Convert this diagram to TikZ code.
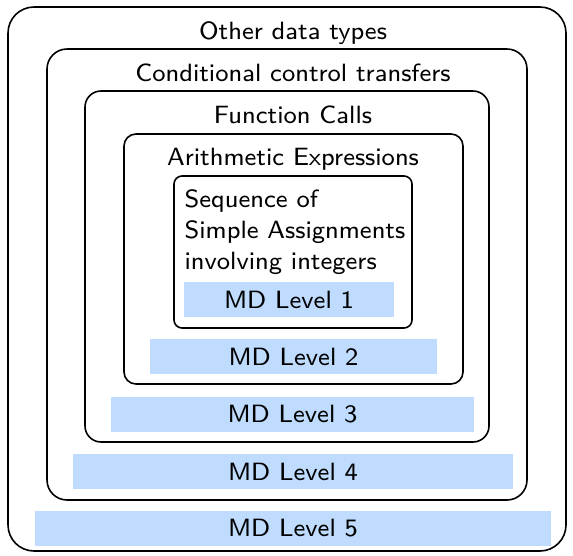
\documentclass[tikz,border=0pt]{standalone}
\definecolor{mdblue}{RGB}{191,219,254}
\begin{document}
\begin{tikzpicture}[x=0.32pt,y=-0.32pt,
  box/.style={draw=black,line width=0.512pt,inner sep=0pt},
  bar/.style={fill=mdblue,inner sep=0pt,minimum height=11.2pt,font=\sffamily\fontsize{8}{9.92}\selectfont},
  ttl/.style={anchor=base,inner sep=0pt,font=\sffamily\fontsize{8}{9.92}\selectfont}]
\useasboundingbox (0,0) rectangle (573,556);
\node[box,rounded corners=8.32pt,minimum width=178.56pt,minimum height=174.08pt] (b1) at (287,279) {};
\node[box,rounded corners=6.4pt,minimum width=153.6pt,minimum height=144.32pt] (b2) at (287,274.5) {};
\node[box,rounded corners=5.12pt,minimum width=129.28pt,minimum height=112.32pt] (b3) at (287,266.5) {};
\node[box,rounded corners=3.84pt,minimum width=108.48pt,minimum height=80pt] (b4) at (293.5,259) {};
\node[box,rounded corners=2.56pt,minimum width=76.16pt,minimum height=48.64pt] (b5) at (293,252) {};
\node[ttl] (t1) at (293,39) {Other data types};
\node[ttl] (t2) at (293,81) {Conditional control transfers};
\node[ttl] (t3) at (293,123) {Function Calls};
\node[ttl] (t4) at (293,165) {Arithmetic Expressions};
\node[anchor=north west,inner sep=0pt,align=left,font=\sffamily\fontsize{8}{9.92}\selectfont] (t5) at (184,189) {Sequence of\\Simple Assignments\\involving integers};
\node[bar,minimum width=67.2pt] (l1) at (289,299.5) {MD Level 1};
\node[bar,minimum width=91.84pt] (l2) at (293.5,356.5) {MD Level 2};
\node[bar,minimum width=116.16pt] (l3) at (292.5,414.5) {MD Level 3};
\node[bar,minimum width=140.8pt] (l4) at (293,471.5) {MD Level 4};
\node[bar,minimum width=165.12pt] (l5) at (293,528.5) {MD Level 5};
\end{tikzpicture}
\end{document}
